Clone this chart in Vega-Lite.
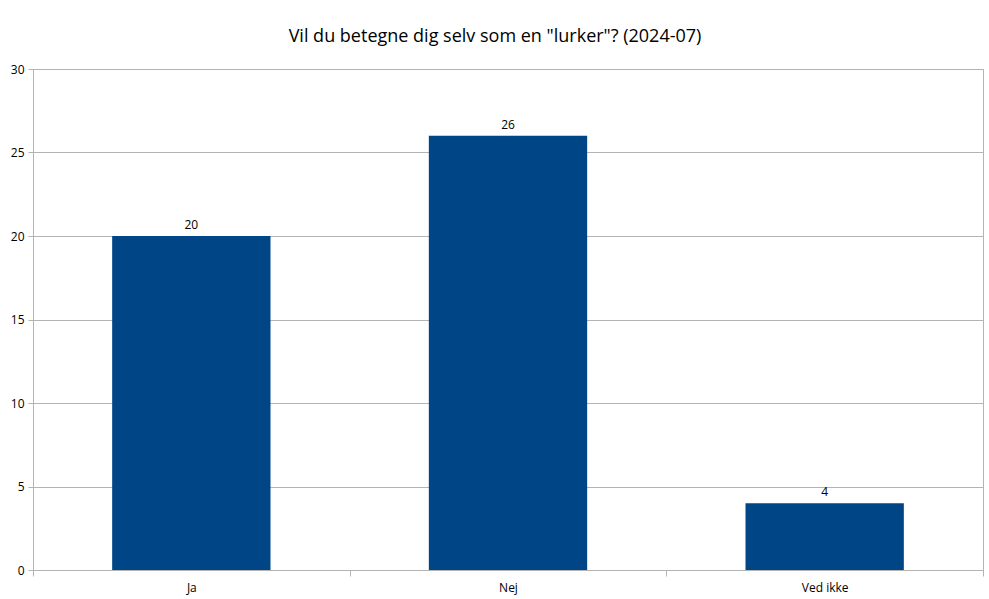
{
  "$schema": "https://vega.github.io/schema/vega-lite/v6.json",
  "width": 950,
  "height": 501,
  "autosize": {"type": "none"},
  "padding": {"left": 33, "top": 69, "right": 6, "bottom": 29},
  "background": "white",
  "config": {
    "font": "Open Sans",
    "view": {"stroke": "#b3b3b3", "strokeWidth": 1}
  },
  "title": {
    "text": "Vil du betegne dig selv som en \"lurker\"? (2024-07)",
    "fontSize": 18,
    "fontWeight": "normal",
    "color": "#000000",
    "font": "Open Sans",
    "offset": 17,
    "dx": -13
  },
  "data": {
    "values": [
      {"svar": "Ja", "antal": 20},
      {"svar": "Nej", "antal": 26},
      {"svar": "Ved ikke", "antal": 4}
    ]
  },
  "encoding": {
    "x": {
      "field": "svar",
      "type": "nominal",
      "sort": null,
      "scale": {"paddingInner": 0, "paddingOuter": 0},
      "axis": {
        "title": null,
        "labelAngle": 0,
        "labelFontSize": 12,
        "labelColor": "#000000",
        "labelPadding": 6,
        "tickBand": "extent",
        "tickColor": "#b3b3b3",
        "tickSize": 6,
        "domainColor": "#b3b3b3",
        "grid": false
      }
    },
    "y": {
      "field": "antal",
      "type": "quantitative",
      "scale": {"domain": [0, 30]},
      "axis": {
        "title": null,
        "values": [0, 5, 10, 15, 20, 25, 30],
        "labelFontSize": 12,
        "labelColor": "#000000",
        "labelPadding": 4,
        "tickColor": "#b3b3b3",
        "tickSize": 5,
        "domainColor": "#b3b3b3",
        "gridColor": "#b3b3b3"
      }
    }
  },
  "layer": [
    {"mark": {"type": "bar", "color": "#004586", "width": {"band": 0.5}}},
    {
      "mark": {"type": "text", "dy": -11, "fontSize": 12, "color": "#000000"},
      "encoding": {"text": {"field": "antal", "type": "quantitative"}}
    }
  ]
}
